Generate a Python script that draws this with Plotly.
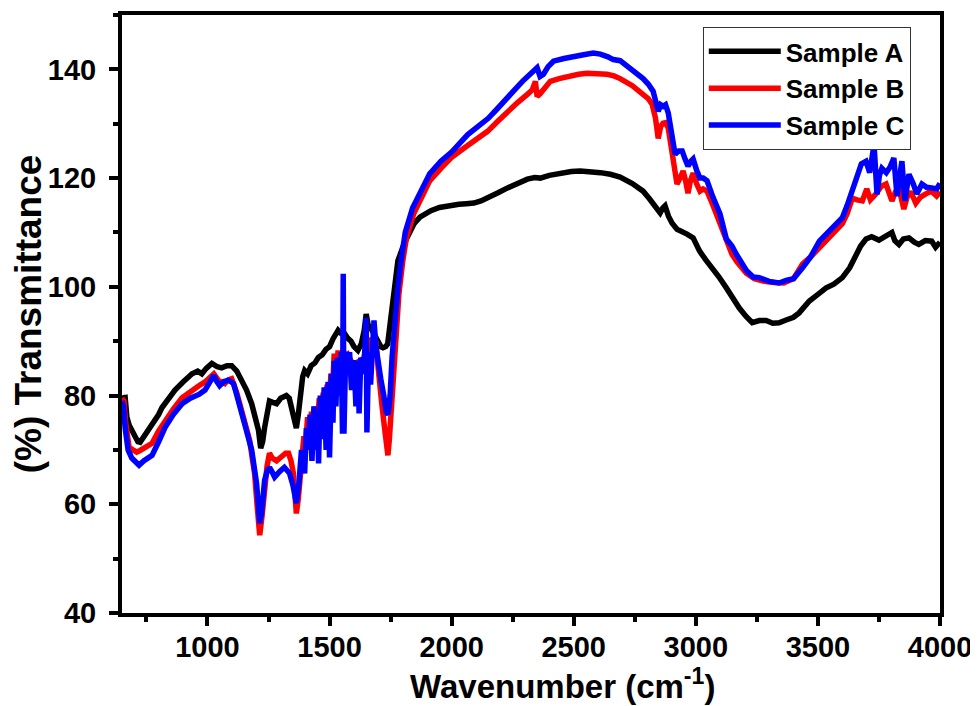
import plotly.graph_objects as go

# ---------------- data ----------------
wn_a = [650, 655, 663, 670, 680, 692, 705, 715, 724, 740, 761, 780, 800, 814, 840, 867, 900, 937, 960, 977,
        995, 1018, 1040, 1058, 1080, 1099, 1120, 1140, 1160, 1181, 1195, 1209, 1218, 1226, 1234, 1244, 1254,
        1265, 1283, 1300, 1323, 1335, 1344, 1355, 1364, 1372, 1380, 1390, 1398, 1410, 1425, 1440, 1454, 1470,
        1485, 1500, 1515, 1528, 1535, 1545, 1560, 1575, 1588, 1600, 1616, 1630, 1642, 1650, 1658, 1668, 1678,
        1690, 1700, 1710, 1719, 1730, 1738, 1745, 1752, 1765, 1780, 1805, 1825, 1846, 1870, 1895, 1915, 1950,
        1984, 2030, 2060, 2091, 2120, 2147, 2190, 2229, 2270, 2310, 2340, 2363, 2400, 2445, 2490, 2527, 2570,
        2609, 2650, 2690, 2740, 2784, 2810, 2825, 2845, 2854, 2865, 2874, 2888, 2903, 2923, 2945, 2964, 2989,
        3015, 3040, 3068, 3095, 3125, 3150, 3178, 3205, 3231, 3260, 3288, 3315, 3341, 3370, 3400, 3423, 3445,
        3465, 3500, 3534, 3565, 3600, 3630, 3656, 3675, 3697, 3720, 3750, 3775, 3803, 3815, 3832, 3850, 3873,
        3895, 3913, 3940, 3966, 3982, 4000]
tr_a = [80, 79.5, 79.6, 76, 74.5, 73.6, 72.5, 71.5, 71.4, 72.5, 73.6, 75, 76.5, 77.8, 79.5, 81, 82.5, 84, 84.5, 84,
        85, 85.9, 85.3, 85.1, 85.5, 85.5, 84.5, 82.8, 81, 78.5, 76, 73.6, 70.3, 71.5, 74.1, 77, 79,
        78.8, 78.5, 79.5, 80, 79.5, 77.8, 76, 74, 76.5, 80.5, 83.5, 84.6, 84, 85.5, 86, 87, 87.5,
        88.5, 89, 90.5, 91.5, 92, 91.5, 91.5, 90.5, 90, 89, 88.3, 89.5, 92, 95, 93, 92.5, 91.6,
        90.5, 89.5, 89, 88.8, 89, 89.5, 92, 95.6, 100.5, 104.8, 107.9, 110, 111.6, 112.8, 113.5, 114, 114.6,
        114.9, 115.2, 115.3, 115.4, 115.8, 116.3, 117.3, 118.2, 119, 119.8, 120.1, 120, 120.5, 120.9, 121.2, 121.3, 121.2,
        121, 120.7, 120.2, 119, 117.6, 116.2, 115.2, 113.8, 113.6, 114.5, 114.9, 113, 111.7, 110.6, 110.2, 109.7, 109,
        106.6, 105, 103.5, 101.8, 99.8, 98, 96.1, 94.6, 93.4, 93.8, 93.8, 93.3, 93.4, 93.9, 94.4, 95.2, 96.5,
        97.4, 98.6, 99.8, 100.5, 101.7, 103.5, 106, 107.5, 108.8, 109.2, 108.6, 109.2, 110, 108.5, 107.8, 108.8, 109,
        108.2, 107.8, 108.5, 108.4, 107.3, 108.2]

wn_b = [650, 658, 665, 679, 695, 710, 724, 745, 773, 800, 826, 860, 896, 930, 965, 990, 1010, 1026, 1045, 1071,
        1085, 1099, 1120, 1140, 1158, 1173, 1185, 1193, 1203, 1214, 1224, 1234, 1244, 1254, 1265, 1283, 1300,
        1320, 1332, 1342, 1352, 1358, 1364, 1372, 1380, 1388, 1395, 1402, 1410, 1418, 1426, 1434, 1442, 1450,
        1458, 1466, 1474, 1482, 1490, 1498, 1506, 1512, 1519, 1527, 1535, 1545, 1556, 1565, 1575, 1588, 1596,
        1610, 1629, 1645, 1660, 1670, 1680, 1690, 1697, 1703, 1715, 1728, 1739, 1745, 1752, 1764, 1775, 1784,
        1800, 1815, 1845, 1874, 1910, 1956, 2000, 2050, 2091, 2120, 2147, 2190, 2229, 2270, 2310, 2330, 2343,
        2350, 2362, 2376, 2390, 2404, 2440, 2473, 2520, 2555, 2600, 2636, 2665, 2690, 2740, 2784, 2805, 2821,
        2835, 2846, 2856, 2866, 2876, 2887, 2900, 2912, 2923, 2935, 2948, 2958, 2968, 2978, 2989, 3003, 3017,
        3030, 3046, 3070, 3099, 3125, 3148, 3170, 3207, 3240, 3280, 3320, 3360, 3400, 3437, 3470, 3506, 3550,
        3600, 3620, 3641, 3660, 3682, 3700, 3715, 3738, 3760, 3779, 3790, 3803, 3818, 3832, 3843, 3852, 3865,
        3880, 3901, 3920, 3942, 3965, 3986, 4000]
tr_b = [79.5, 79, 75, 70.5, 70, 69.6, 69.9, 70.5, 71.2, 73.5, 75.4, 77.5, 79.6, 80.8, 81.8, 82.5, 83.5, 84, 82.8, 82.2,
        82.9, 83.1, 80.5, 77.2, 74.5, 71.7, 68, 65.7, 60, 54.3, 58, 63.1, 67, 69.4, 68.5, 68, 68.8,
        69.4, 69.4, 68, 65.7, 62, 58.3, 61, 65, 70, 72.5, 71, 76, 73, 77, 73.5, 78, 75,
        79.5, 76, 80.5, 77.5, 82, 79, 84, 81, 87.7, 84, 88.3, 85.5, 88.3, 87, 87.5, 86.4, 85.9,
        86, 86.4, 87, 88, 90.6, 89.5, 90, 86, 82.2, 78, 73, 69, 72, 77, 86, 94, 98.7,
        104.8, 109, 113.5, 116.3, 119.5, 121.8, 123.8, 125.5, 126.8, 127.6, 128.6, 130.5, 132.3, 133.9, 135.4, 136.2, 137.8,
        135, 135.5, 136.2, 137, 137.8, 138.3, 138.7, 139.1, 139.3, 139.2, 139.1, 138.8, 138.3, 137, 135.4, 134.6, 133.6,
        131, 127.3, 129.5, 130.1, 130.2, 129.2, 125, 121, 118.9, 120, 121.3, 119.5, 117.2, 119.5, 120.9, 119, 117.6,
        118, 117.6, 115, 111.7, 108.2, 106, 104.5, 102.5, 101.5, 101, 100.8, 100.7, 101.5, 104.2, 105.5, 107.2, 109.3,
        111.6, 113.5, 116.3, 116, 115.8, 118, 116, 117.1, 118.5, 118.9, 117.5, 115.8, 117.5, 118.2, 116, 114.3, 116.5,
        117.5, 115.4, 116.5, 117.1, 117.6, 116.7, 117.5]

wn_c = [650, 656, 663, 675, 690, 705, 720, 740, 760, 773, 800, 826, 860, 896, 930, 965, 990, 1010, 1026, 1038,
        1050, 1068, 1087, 1107, 1125, 1140, 1160, 1181, 1193, 1201, 1208, 1214, 1222, 1234, 1244, 1254, 1264,
        1275, 1295, 1315, 1336, 1350, 1364, 1374, 1385, 1392, 1398, 1405, 1412, 1420, 1428, 1436, 1444, 1450,
        1455, 1462, 1470, 1478, 1486, 1494, 1500, 1508, 1514, 1519, 1526, 1532, 1540, 1548, 1553, 1556, 1559,
        1566, 1574, 1582, 1590, 1600, 1608, 1616, 1621, 1628, 1636, 1644, 1650, 1653, 1660, 1668, 1676, 1682,
        1690, 1698, 1710, 1722, 1732, 1740, 1748, 1756, 1768, 1780, 1793, 1810, 1840, 1874, 1910, 1956, 2000,
        2066, 2119, 2150, 2188, 2220, 2253, 2290, 2335, 2350, 2362, 2376, 2395, 2417, 2460, 2498, 2540, 2580,
        2609, 2640, 2662, 2690, 2740, 2784, 2805, 2825, 2846, 2856, 2866, 2876, 2887, 2900, 2915, 2930, 2944,
        2956, 2968, 2978, 2989, 3003, 3017, 3030, 3046, 3070, 3099, 3125, 3148, 3166, 3185, 3207, 3235, 3260,
        3300, 3341, 3370, 3400, 3437, 3470, 3506, 3550, 3600, 3620, 3641, 3660, 3678, 3697, 3712, 3730, 3742,
        3752, 3762, 3780, 3795, 3811, 3824, 3834, 3844, 3856, 3864, 3873, 3890, 3905, 3926, 3945, 3966, 3986, 4000]
tr_c = [79, 78, 74, 70, 68.5, 67.8, 67.2, 68, 68.8, 69, 71.5, 74.1, 76.5, 78.5, 79.5, 80.2, 81, 82.5, 83.7, 82.6,
        81.8, 82.6, 82.8, 82.2, 79.5, 76.7, 73.5, 70, 67, 63.9, 60, 56.5, 58.5, 64.4, 66, 66.8, 66,
        65, 66, 66.8, 65.7, 63.5, 60.2, 63.5, 70, 67.5, 65.7, 74, 70, 76.5, 68, 78, 70, 77,
        67.5, 80, 72, 81.5, 70, 82.5, 68.6, 84, 75, 86.4, 78, 87, 80, 88, 73, 102.4, 73,
        88, 84, 88, 81, 86.5, 78, 86.4, 76.7, 87, 84, 88, 94.3, 73.2, 88, 82, 89, 93.8,
        89, 86, 83, 80, 77, 76.5, 80, 87, 94, 99.8, 104.8, 110, 114.5, 117.6, 120.8, 123.1, 124.8,
        128, 129.9, 131, 132.8, 134.5, 136, 137.8, 139.6, 140.3, 138.7, 139.1, 140.5, 141.5, 142, 142.4, 142.7, 143,
        142.8, 142.3, 141.8, 141.6, 140, 138.3, 137.3, 136, 132.3, 133.5, 133.2, 133.5, 132, 128, 124.4, 125, 125,
        123.5, 122.2, 123, 123.5, 121.5, 120, 120, 119.5, 116.5, 113.4, 108.8, 107.5, 106, 104.5, 103, 101.8, 101.7,
        101, 100.7, 101.2, 101.5, 103.5, 105.5, 108.4, 110.5, 112.7, 115, 117.6, 120, 122.6, 123.1, 121, 126.2, 117,
        120.5, 121.8, 121, 122, 123.7, 116.7, 120, 123.1, 115.8, 119, 120.7, 119, 117.1, 118.9, 118.3, 118.2, 118, 119]

names = ["Sample A", "Sample B", "Sample C"]
colors = ["#000000", "#ff0000", "#0000ff"]

x_ticks = [1000, 1500, 2000, 2500, 3000, 3500, 4000]
y_ticks = [40, 60, 80, 100, 120, 140]
x_title = "Wavenumber (cm<sup>-1</sup>)"
y_title = "(%) Transmittance"

# ---------------- figure ----------------
FONT = "Liberation Sans, Arial, sans-serif"
fig = go.Figure()
for wn, tr, nm, col in zip([wn_a, wn_b, wn_c], [tr_a, tr_b, tr_c], names, colors):
    fig.add_trace(go.Scatter(x=wn, y=tr, mode="lines", name=nm,
                             line=dict(color=col, width=5.5)))

axis_common = dict(
    showgrid=False, zeroline=False,
    showline=True, linecolor="black", linewidth=4, mirror=True,
    ticks="outside", ticklen=9, tickwidth=4, tickcolor="black",
    tickfont=dict(family=FONT, size=29, color="black", weight="bold"),
)

fig.update_xaxes(
    range=[650, 4000], tickvals=x_ticks, ticktext=[str(v) for v in x_ticks],
    minor=dict(ticks="outside", ticklen=5, tickwidth=4, tickcolor="black", dtick=250, tick0=750),
    ticklabelstandoff=-4,
    **axis_common,
)
fig.update_yaxes(
    range=[40, 150], tickvals=y_ticks, ticktext=[str(v) for v in y_ticks],
    minor=dict(ticks="outside", ticklen=5, tickwidth=4, tickcolor="black", dtick=10, tick0=40),
    ticklabelstandoff=7,
    title=dict(text=y_title, standoff=0,
               font=dict(family=FONT, size=37, color="black", weight="bold")),
    **axis_common,
)

# x-axis title sits a little right of centre in the reference, so it is placed as an annotation
fig.add_annotation(
    text=x_title, xref="paper", yref="paper", x=0.538, y=-0.118,
    xanchor="center", yanchor="middle", showarrow=False,
    font=dict(family=FONT, size=33, color="black", weight="bold"),
)

# page body has an 8px margin: the figure is sized/offset so the plot lands where the reference has it
fig.update_layout(
    width=970, height=698,
    margin=dict(l=114, r=38, t=7, b=93, autoexpand=False),
    paper_bgcolor="white", plot_bgcolor="white",
    showlegend=True,
    legend=dict(x=0.71, y=0.98, xanchor="left", yanchor="top",
                bgcolor="white", bordercolor="#333333", borderwidth=1,
                font=dict(family=FONT, size=26, color="black", weight="bold"),
                itemwidth=72, tracegroupgap=0),
)

fig.write_html("out.html")
